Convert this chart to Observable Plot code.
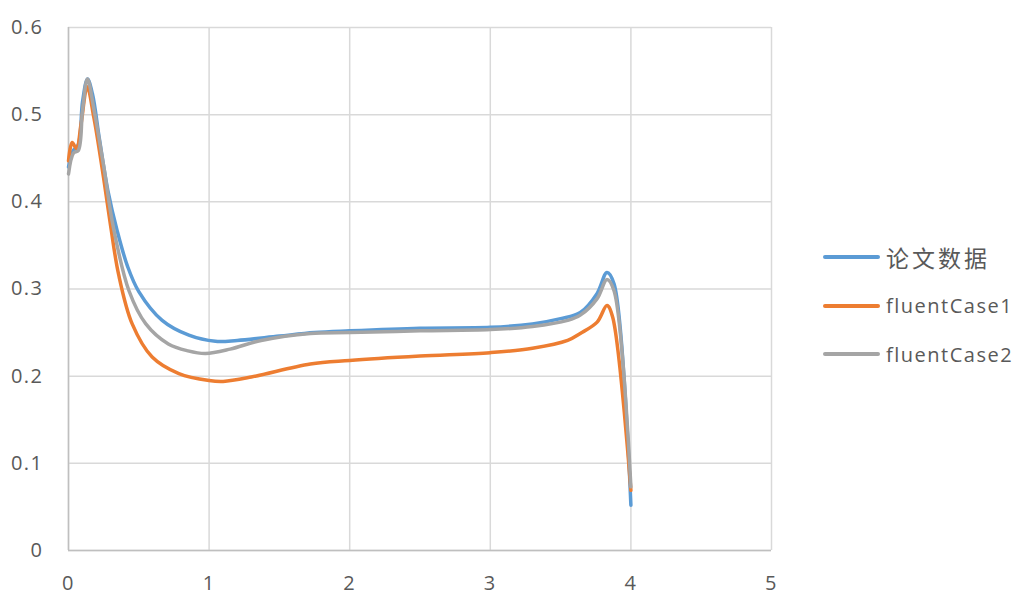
<!DOCTYPE html>
<html>
<head>
<meta charset="utf-8">
<script src="https://cdn.jsdelivr.net/npm/d3@7"></script>
<script src="https://cdn.jsdelivr.net/npm/@observablehq/plot@0.6"></script>
<style>
  html, body { margin: 0; padding: 0; background: #fff; }
  #wrap { position: relative; width: 1025px; height: 615px; overflow: hidden; }
  #legend { position: absolute; left: 823px; top: 233px; font-family: "Open Sans", "Noto Sans CJK SC", sans-serif; font-size: 20px; letter-spacing: 1.5px; color: #595959; }
  .item { display: flex; align-items: center; height: 48.5px; }
  .sw { width: 57px; height: 4px; border-radius: 2px; margin-right: 6px; }
  .cjk { font-family: "Noto Sans CJK SC", sans-serif; font-size: 23px; letter-spacing: 3px; }
  svg text { letter-spacing: 1.5px; }
</style>
</head>
<body>
<div id="wrap"><div id="legend"></div></div>
<script>
const seriesNames = ["论文数据", "fluentCase1", "fluentCase2"];
const seriesColors = ["#5B9BD5", "#ED7D31", "#A5A5A5"];

const xPaper = [0, 0.03, 0.07, 0.1, 0.135, 0.17, 0.22, 0.28, 0.346, 0.42, 0.5, 0.666, 0.856, 1.045, 1.2, 1.5, 1.75, 2.0, 2.5, 3.0, 3.3, 3.5, 3.64, 3.76, 3.83, 3.88, 4.0];
const yPaper = [0.44, 0.458, 0.466, 0.515, 0.541, 0.524, 0.472, 0.413, 0.367, 0.326, 0.297, 0.264, 0.247, 0.240, 0.241, 0.246, 0.250, 0.252, 0.255, 0.256, 0.260, 0.266, 0.273, 0.295, 0.319, 0.306, 0.052];

const xCase1 = [0, 0.026, 0.057, 0.09, 0.133, 0.18, 0.25, 0.3, 0.356, 0.453, 0.595, 0.785, 1.0, 1.1, 1.3, 1.72, 2.0, 2.5, 3.0, 3.3, 3.55, 3.64, 3.76, 3.83, 3.87, 4.0];
const yCase1 = [0.447, 0.468, 0.461, 0.49, 0.532, 0.497, 0.427, 0.372, 0.317, 0.26, 0.222, 0.203, 0.195, 0.194, 0.199, 0.214, 0.218, 0.223, 0.227, 0.232, 0.241, 0.249, 0.262, 0.281, 0.268, 0.069];

const xCase2 = [0, 0.036, 0.07, 0.1, 0.135, 0.18, 0.25, 0.32, 0.43, 0.55, 0.71, 0.85, 0.975, 1.15, 1.37, 1.72, 2.0, 2.5, 3.0, 3.3, 3.55, 3.64, 3.76, 3.83, 3.88, 4.0];
const yCase2 = [0.432, 0.456, 0.459, 0.505, 0.541, 0.507, 0.441, 0.37, 0.298, 0.26, 0.237, 0.229, 0.226, 0.231, 0.241, 0.249, 0.250, 0.252, 0.2534, 0.257, 0.264, 0.270, 0.289, 0.311, 0.298, 0.073];

const xTicks = [0, 1, 2, 3, 4, 5];
const yTicks = [0, 0.1, 0.2, 0.3, 0.4, 0.5, 0.6];
const fmt = d => String(+d.toFixed(1));

const toRows = (xs, ys, s) => xs.map((x, i) => ({x, y: ys[i], s}));
const allX = [xPaper, xCase1, xCase2];
const allY = [yPaper, yCase1, yCase2];
const data = seriesNames.flatMap((n, i) => toRows(allX[i], allY[i], n));

const chart = Plot.plot({
  width: 1025,
  height: 615,
  marginLeft: 68,
  marginRight: 254,
  marginTop: 27,
  marginBottom: 65,
  style: {fontFamily: "'Open Sans', sans-serif", fontSize: "20px", color: "#595959", background: "#fff"},
  x: {domain: [0, 5]},
  y: {domain: [0, 0.6]},
  color: {domain: seriesNames, range: seriesColors},
  marks: [
    Plot.gridX(xTicks, {stroke: "#d9d9d9", strokeOpacity: 1, strokeWidth: 1.5}),
    Plot.gridY(yTicks, {stroke: "#d9d9d9", strokeOpacity: 1, strokeWidth: 1.5}),
    Plot.ruleX([0], {stroke: "#bfbfbf", strokeWidth: 1.5}),
    Plot.ruleY([0], {stroke: "#bfbfbf", strokeWidth: 1.5}),
    Plot.axisX(xTicks, {tickSize: 0, tickPadding: 25, label: null, fill: "#595959", fontSize: 20, tickFormat: fmt}),
    Plot.axisY(yTicks, {tickSize: 0, tickPadding: 25, label: null, fill: "#595959", fontSize: 20, tickFormat: fmt}),
    Plot.line(data, {x: "x", y: "y", z: "s", stroke: "s", strokeWidth: 3.5, curve: "catmull-rom", strokeLinecap: "round", strokeLinejoin: "round"})
  ]
});
document.getElementById("wrap").prepend(chart);

const legend = document.getElementById("legend");
seriesNames.forEach((n, i) => {
  const item = document.createElement("div");
  item.className = "item";
  const sw = document.createElement("div");
  sw.className = "sw";
  sw.style.background = seriesColors[i];
  const t = document.createElement("span");
  t.textContent = n;
  if (i === 0) t.className = "cjk";
  item.appendChild(sw);
  item.appendChild(t);
  legend.appendChild(item);
});
</script>
</body>
</html>
